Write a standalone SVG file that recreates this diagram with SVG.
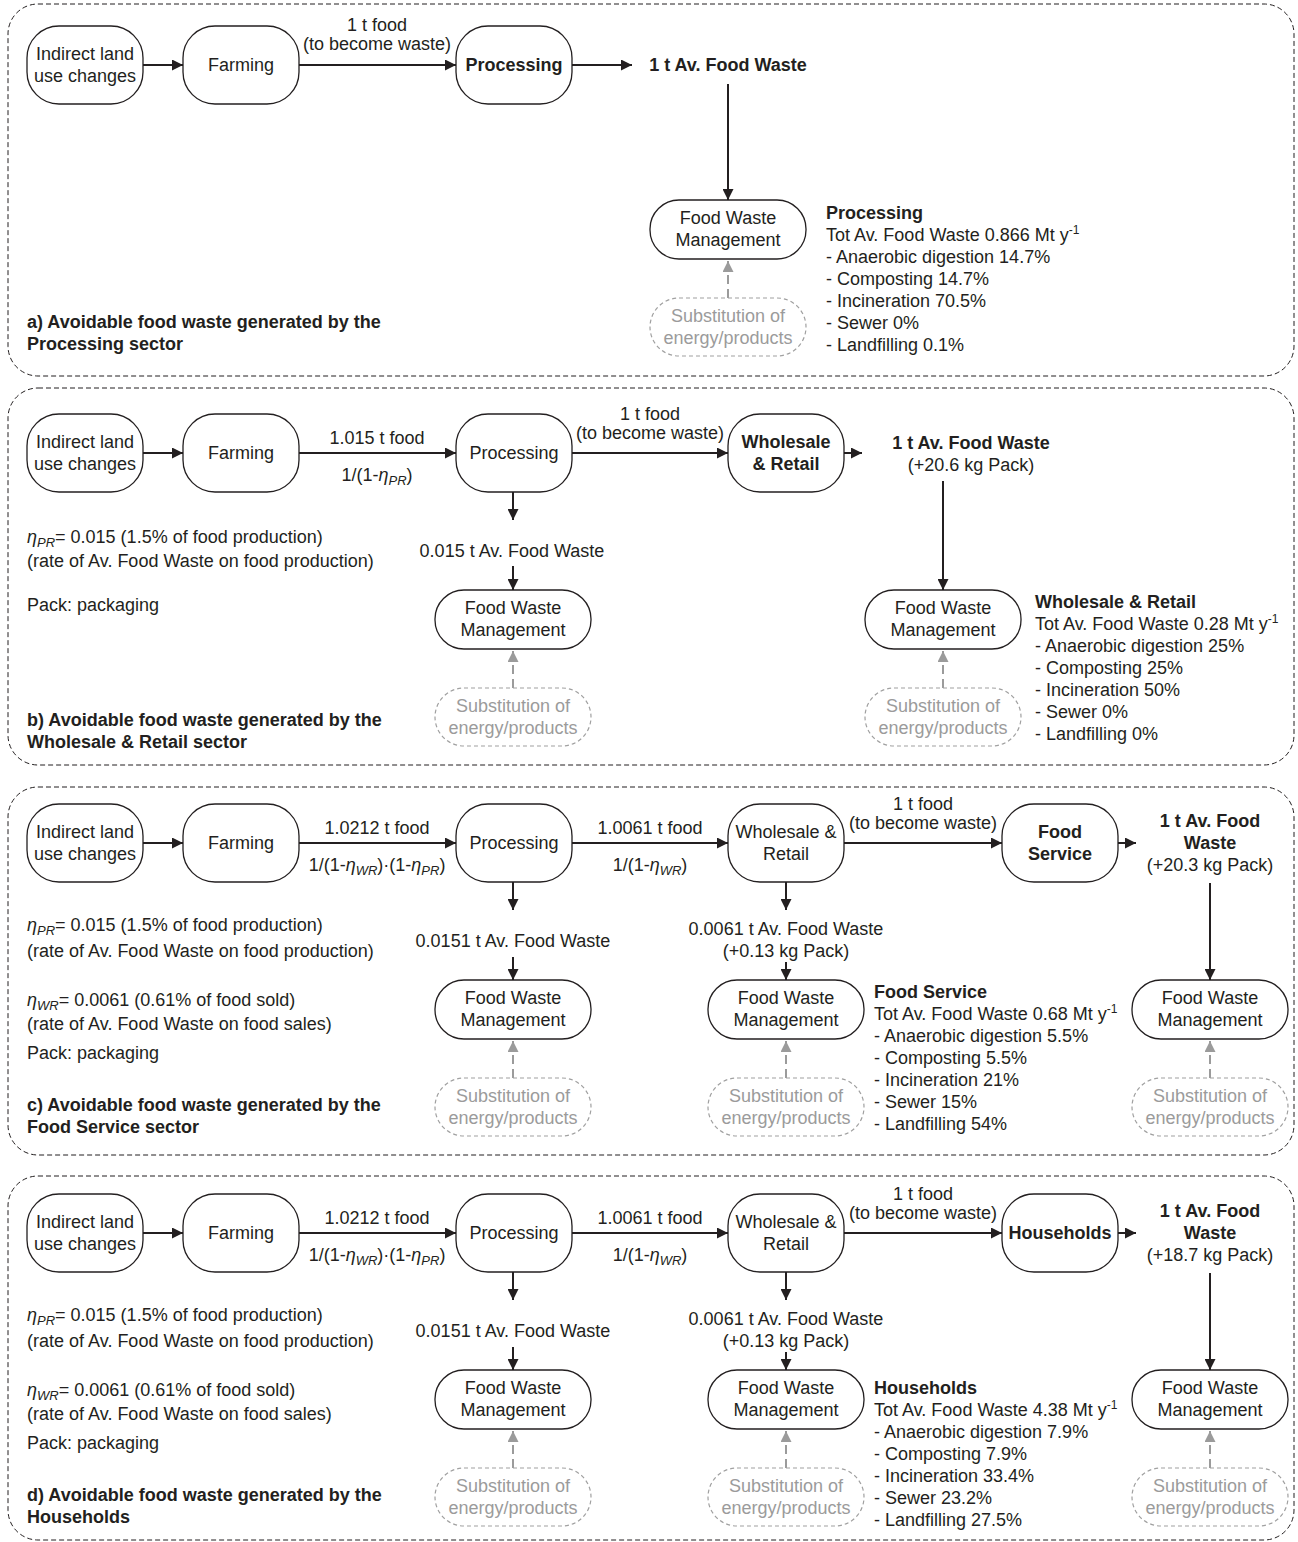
<svg xmlns="http://www.w3.org/2000/svg" width="1298" height="1542" viewBox="0 0 1298 1542">
<style>
text{font-family:"Liberation Sans",Arial,sans-serif;font-size:18px;fill:#231f20}
.b{font-weight:bold}
.c{text-anchor:middle}
.g{fill:#9b9b9b}
.i{font-style:italic}
.node{fill:#fff;stroke:#231f20;stroke-width:1.3}
.sub{fill:#fff;stroke:#a0a0a0;stroke-width:1.2;stroke-dasharray:4 3}
.frame{fill:none;stroke:#231f20;stroke-width:1;stroke-dasharray:5 3}
.arr{stroke:#231f20;stroke-width:2;fill:none;marker-end:url(#ah)}
.garr{stroke:#9b9b9b;stroke-width:2;fill:none;stroke-dasharray:9 5;marker-end:url(#gah)}
</style>
<defs>
<marker id="ah" viewBox="0 0 10 10" refX="10" refY="5" markerWidth="11" markerHeight="11" markerUnits="userSpaceOnUse" orient="auto"><path d="M0,0 L10,5 L0,10 z" fill="#231f20"/></marker>
<marker id="gah" viewBox="0 0 10 10" refX="10" refY="5" markerWidth="11" markerHeight="11" markerUnits="userSpaceOnUse" orient="auto"><path d="M0,0 L10,5 L0,10 z" fill="#9b9b9b"/></marker>
</defs>
<rect width="1298" height="1542" fill="#fff"/>

<g id="frames">
<rect class="frame" x="8" y="4" width="1286" height="372" rx="30"/>
<rect class="frame" x="8" y="388" width="1286" height="377" rx="30"/>
<rect class="frame" x="8" y="787" width="1286" height="368" rx="30"/>
<rect class="frame" x="8" y="1176" width="1286" height="364" rx="30"/>
</g>

<g id="connectors">
<line class="arr" x1="143" y1="65" x2="183" y2="65"/>
<line class="arr" x1="299" y1="65" x2="456" y2="65"/>
<line class="arr" x1="572" y1="65" x2="632" y2="65"/>
<line class="arr" x1="728" y1="84" x2="728" y2="200"/>
<line class="garr" x1="728" y1="298" x2="728" y2="261"/>
<line class="arr" x1="143" y1="453" x2="183" y2="453"/>
<line class="arr" x1="299" y1="453" x2="456" y2="453"/>
<line class="arr" x1="572" y1="453" x2="728" y2="453"/>
<line class="arr" x1="844" y1="453" x2="862" y2="453"/>
<line class="arr" x1="513" y1="492" x2="513" y2="520"/>
<line class="arr" x1="513" y1="566" x2="513" y2="590"/>
<line class="arr" x1="943" y1="481" x2="943" y2="590"/>
<line class="garr" x1="513" y1="688" x2="513" y2="651"/>
<line class="garr" x1="943" y1="688" x2="943" y2="651"/>
<line class="arr" x1="143" y1="843" x2="183" y2="843"/>
<line class="arr" x1="299" y1="843" x2="456" y2="843"/>
<line class="arr" x1="572" y1="843" x2="728" y2="843"/>
<line class="arr" x1="844" y1="843" x2="1002" y2="843"/>
<line class="arr" x1="1118" y1="843" x2="1136" y2="843"/>
<line class="arr" x1="513" y1="882" x2="513" y2="910"/>
<line class="arr" x1="513" y1="957" x2="513" y2="980"/>
<line class="arr" x1="786" y1="882" x2="786" y2="910"/>
<line class="arr" x1="786" y1="962" x2="786" y2="980"/>
<line class="arr" x1="1210" y1="883" x2="1210" y2="980"/>
<line class="garr" x1="513" y1="1078" x2="513" y2="1041"/>
<line class="garr" x1="786" y1="1078" x2="786" y2="1041"/>
<line class="garr" x1="1210" y1="1078" x2="1210" y2="1041"/>
<line class="arr" x1="143" y1="1233" x2="183" y2="1233"/>
<line class="arr" x1="299" y1="1233" x2="456" y2="1233"/>
<line class="arr" x1="572" y1="1233" x2="728" y2="1233"/>
<line class="arr" x1="844" y1="1233" x2="1002" y2="1233"/>
<line class="arr" x1="1118" y1="1233" x2="1136" y2="1233"/>
<line class="arr" x1="513" y1="1272" x2="513" y2="1300"/>
<line class="arr" x1="513" y1="1347" x2="513" y2="1370"/>
<line class="arr" x1="786" y1="1272" x2="786" y2="1300"/>
<line class="arr" x1="786" y1="1352" x2="786" y2="1370"/>
<line class="arr" x1="1210" y1="1273" x2="1210" y2="1370"/>
<line class="garr" x1="513" y1="1468" x2="513" y2="1431"/>
<line class="garr" x1="786" y1="1468" x2="786" y2="1431"/>
<line class="garr" x1="1210" y1="1468" x2="1210" y2="1431"/>
</g>

<g id="labels">
<text class="c" x="377" y="31">1 t food</text>
<text class="c" x="377" y="50">(to become waste)</text>
<text class="c" x="377" y="444">1.015 t food</text>
<text class="c" x="377" y="481">1/(1-<tspan class="i">η</tspan><tspan class="i" font-size="13" dy="4">PR</tspan><tspan dy="-4">)</tspan></text>
<text class="c" x="650" y="420">1 t food</text>
<text class="c" x="650" y="439">(to become waste)</text>
<text class="c" x="377" y="834">1.0212 t food</text>
<text class="c" x="377" y="871">1/(1-<tspan class="i">η</tspan><tspan class="i" font-size="13" dy="4">WR</tspan><tspan dy="-4">)·(1-</tspan><tspan class="i">η</tspan><tspan class="i" font-size="13" dy="4">PR</tspan><tspan dy="-4">)</tspan></text>
<text class="c" x="650" y="834">1.0061 t food</text>
<text class="c" x="650" y="871">1/(1-<tspan class="i">η</tspan><tspan class="i" font-size="13" dy="4">WR</tspan><tspan dy="-4">)</tspan></text>
<text class="c" x="923" y="810">1 t food</text>
<text class="c" x="923" y="829">(to become waste)</text>
<text class="c" x="377" y="1224">1.0212 t food</text>
<text class="c" x="377" y="1261">1/(1-<tspan class="i">η</tspan><tspan class="i" font-size="13" dy="4">WR</tspan><tspan dy="-4">)·(1-</tspan><tspan class="i">η</tspan><tspan class="i" font-size="13" dy="4">PR</tspan><tspan dy="-4">)</tspan></text>
<text class="c" x="650" y="1224">1.0061 t food</text>
<text class="c" x="650" y="1261">1/(1-<tspan class="i">η</tspan><tspan class="i" font-size="13" dy="4">WR</tspan><tspan dy="-4">)</tspan></text>
<text class="c" x="923" y="1200">1 t food</text>
<text class="c" x="923" y="1219">(to become waste)</text>
</g>

<g id="a-ilu"><rect class="node" x="27" y="26" width="116" height="78" rx="32"/><text class="c" x="85" y="60">Indirect land</text><text class="c" x="85" y="82">use changes</text></g>
<g id="a-farming"><rect class="node" x="183" y="26" width="116" height="78" rx="32"/><text class="c" x="241" y="71">Farming</text></g>
<g id="a-processing"><rect class="node" x="456" y="26" width="116" height="78" rx="32"/><text class="c b" x="514" y="71">Processing</text></g>
<g id="a-waste"><text class="c b" x="728" y="71">1 t Av. Food Waste</text></g>
<g id="a-fwm"><rect class="node" x="650" y="200" width="156" height="59" rx="29"/><text class="c" x="728" y="224">Food Waste</text><text class="c" x="728" y="246">Management</text></g>
<g id="a-sub"><rect class="sub" x="650" y="298" width="156" height="58" rx="29"/><text class="c g" x="728" y="322">Substitution of</text><text class="c g" x="728" y="344">energy/products</text></g>
<g id="a-info">
<text class="b" x="826" y="219">Processing</text>
<text x="826" y="241">Tot Av. Food Waste 0.866 Mt y<tspan font-size="12" dy="-7">-1</tspan></text>
<text x="826" y="263">- Anaerobic digestion 14.7%</text>
<text x="826" y="285">- Composting 14.7%</text>
<text x="826" y="307">- Incineration 70.5%</text>
<text x="826" y="329">- Sewer 0%</text>
<text x="826" y="351">- Landfilling 0.1%</text>
</g>
<g id="a-title"><text class="b" x="27" y="328">a) Avoidable food waste generated by the</text><text class="b" x="27" y="350">Processing sector</text></g>

<g id="b-ilu"><rect class="node" x="27" y="414" width="116" height="78" rx="32"/><text class="c" x="85" y="448">Indirect land</text><text class="c" x="85" y="470">use changes</text></g>
<g id="b-farming"><rect class="node" x="183" y="414" width="116" height="78" rx="32"/><text class="c" x="241" y="459">Farming</text></g>
<g id="b-processing"><rect class="node" x="456" y="414" width="116" height="78" rx="32"/><text class="c" x="514" y="459">Processing</text></g>
<g id="b-wr"><rect class="node" x="728" y="414" width="116" height="78" rx="32"/><text class="c b" x="786" y="448">Wholesale</text><text class="c b" x="786" y="470">&amp; Retail</text></g>
<g id="b-waste"><text class="c b" x="971" y="449">1 t Av. Food Waste</text><text class="c" x="971" y="471">(+20.6 kg Pack)</text></g>
<g id="b-pr-waste"><text class="c" x="512" y="557">0.015 t Av. Food Waste</text></g>
<g id="b-fwm1"><rect class="node" x="435" y="590" width="156" height="59" rx="29"/><text class="c" x="513" y="614">Food Waste</text><text class="c" x="513" y="636">Management</text></g>
<g id="b-sub1"><rect class="sub" x="435" y="688" width="156" height="58" rx="29"/><text class="c g" x="513" y="712">Substitution of</text><text class="c g" x="513" y="734">energy/products</text></g>
<g id="b-fwm2"><rect class="node" x="865" y="590" width="156" height="59" rx="29"/><text class="c" x="943" y="614">Food Waste</text><text class="c" x="943" y="636">Management</text></g>
<g id="b-sub2"><rect class="sub" x="865" y="688" width="156" height="58" rx="29"/><text class="c g" x="943" y="712">Substitution of</text><text class="c g" x="943" y="734">energy/products</text></g>
<g id="b-info">
<text class="b" x="1035" y="608">Wholesale &amp; Retail</text>
<text x="1035" y="630">Tot Av. Food Waste 0.28 Mt y<tspan font-size="12" dy="-7">-1</tspan></text>
<text x="1035" y="652">- Anaerobic digestion 25%</text>
<text x="1035" y="674">- Composting 25%</text>
<text x="1035" y="696">- Incineration 50%</text>
<text x="1035" y="718">- Sewer 0%</text>
<text x="1035" y="740">- Landfilling 0%</text>
</g>
<g id="b-notes">
<text x="27" y="543"><tspan class="i">η</tspan><tspan class="i" font-size="13" dy="4">PR</tspan><tspan dy="-4">= 0.015 (1.5% of food production)</tspan></text>
<text x="27" y="567">(rate of Av. Food Waste on food production)</text>
<text x="27" y="611">Pack: packaging</text>
</g>
<g id="b-title"><text class="b" x="27" y="726">b) Avoidable food waste generated by the</text><text class="b" x="27" y="748">Wholesale &amp; Retail sector</text></g>

<g id="c-ilu"><rect class="node" x="27" y="804" width="116" height="78" rx="32"/><text class="c" x="85" y="838">Indirect land</text><text class="c" x="85" y="860">use changes</text></g>
<g id="c-farming"><rect class="node" x="183" y="804" width="116" height="78" rx="32"/><text class="c" x="241" y="849">Farming</text></g>
<g id="c-processing"><rect class="node" x="456" y="804" width="116" height="78" rx="32"/><text class="c" x="514" y="849">Processing</text></g>
<g id="c-wr"><rect class="node" x="728" y="804" width="116" height="78" rx="32"/><text class="c" x="786" y="838">Wholesale &amp;</text><text class="c" x="786" y="860">Retail</text></g>
<g id="c-fs"><rect class="node" x="1002" y="804" width="116" height="78" rx="32"/><text class="c b" x="1060" y="838">Food</text><text class="c b" x="1060" y="860">Service</text></g>
<g id="c-waste"><text class="c b" x="1210" y="827">1 t Av. Food</text><text class="c b" x="1210" y="849">Waste</text><text class="c" x="1210" y="871">(+20.3 kg Pack)</text></g>
<g id="c-pr-waste"><text class="c" x="513" y="947">0.0151 t Av. Food Waste</text></g>
<g id="c-wr-waste"><text class="c" x="786" y="935">0.0061 t Av. Food Waste</text><text class="c" x="786" y="957">(+0.13 kg Pack)</text></g>
<g id="c-fwm1"><rect class="node" x="435" y="980" width="156" height="59" rx="29"/><text class="c" x="513" y="1004">Food Waste</text><text class="c" x="513" y="1026">Management</text></g>
<g id="c-sub1"><rect class="sub" x="435" y="1078" width="156" height="58" rx="29"/><text class="c g" x="513" y="1102">Substitution of</text><text class="c g" x="513" y="1124">energy/products</text></g>
<g id="c-fwm2"><rect class="node" x="708" y="980" width="156" height="59" rx="29"/><text class="c" x="786" y="1004">Food Waste</text><text class="c" x="786" y="1026">Management</text></g>
<g id="c-sub2"><rect class="sub" x="708" y="1078" width="156" height="58" rx="29"/><text class="c g" x="786" y="1102">Substitution of</text><text class="c g" x="786" y="1124">energy/products</text></g>
<g id="c-fwm3"><rect class="node" x="1132" y="980" width="156" height="59" rx="29"/><text class="c" x="1210" y="1004">Food Waste</text><text class="c" x="1210" y="1026">Management</text></g>
<g id="c-sub3"><rect class="sub" x="1132" y="1078" width="156" height="58" rx="29"/><text class="c g" x="1210" y="1102">Substitution of</text><text class="c g" x="1210" y="1124">energy/products</text></g>
<g id="c-info">
<text class="b" x="874" y="998">Food Service</text>
<text x="874" y="1020">Tot Av. Food Waste 0.68 Mt y<tspan font-size="12" dy="-7">-1</tspan></text>
<text x="874" y="1042">- Anaerobic digestion 5.5%</text>
<text x="874" y="1064">- Composting 5.5%</text>
<text x="874" y="1086">- Incineration 21%</text>
<text x="874" y="1108">- Sewer 15%</text>
<text x="874" y="1130">- Landfilling 54%</text>
</g>
<g id="c-notes">
<text x="27" y="931"><tspan class="i">η</tspan><tspan class="i" font-size="13" dy="4">PR</tspan><tspan dy="-4">= 0.015 (1.5% of food production)</tspan></text>
<text x="27" y="957">(rate of Av. Food Waste on food production)</text>
<text x="27" y="1006"><tspan class="i">η</tspan><tspan class="i" font-size="13" dy="4">WR</tspan><tspan dy="-4">= 0.0061 (0.61% of food sold)</tspan></text>
<text x="27" y="1030">(rate of Av. Food Waste on food sales)</text>
<text x="27" y="1059">Pack: packaging</text>
</g>
<g id="c-title"><text class="b" x="27" y="1111">c) Avoidable food waste generated by the</text><text class="b" x="27" y="1133">Food Service sector</text></g>

<g id="d-ilu"><rect class="node" x="27" y="1194" width="116" height="78" rx="32"/><text class="c" x="85" y="1228">Indirect land</text><text class="c" x="85" y="1250">use changes</text></g>
<g id="d-farming"><rect class="node" x="183" y="1194" width="116" height="78" rx="32"/><text class="c" x="241" y="1239">Farming</text></g>
<g id="d-processing"><rect class="node" x="456" y="1194" width="116" height="78" rx="32"/><text class="c" x="514" y="1239">Processing</text></g>
<g id="d-wr"><rect class="node" x="728" y="1194" width="116" height="78" rx="32"/><text class="c" x="786" y="1228">Wholesale &amp;</text><text class="c" x="786" y="1250">Retail</text></g>
<g id="d-hh"><rect class="node" x="1002" y="1194" width="116" height="78" rx="32"/><text class="c b" x="1060" y="1239">Households</text></g>
<g id="d-waste"><text class="c b" x="1210" y="1217">1 t Av. Food</text><text class="c b" x="1210" y="1239">Waste</text><text class="c" x="1210" y="1261">(+18.7 kg Pack)</text></g>
<g id="d-pr-waste"><text class="c" x="513" y="1337">0.0151 t Av. Food Waste</text></g>
<g id="d-wr-waste"><text class="c" x="786" y="1325">0.0061 t Av. Food Waste</text><text class="c" x="786" y="1347">(+0.13 kg Pack)</text></g>
<g id="d-fwm1"><rect class="node" x="435" y="1370" width="156" height="59" rx="29"/><text class="c" x="513" y="1394">Food Waste</text><text class="c" x="513" y="1416">Management</text></g>
<g id="d-sub1"><rect class="sub" x="435" y="1468" width="156" height="58" rx="29"/><text class="c g" x="513" y="1492">Substitution of</text><text class="c g" x="513" y="1514">energy/products</text></g>
<g id="d-fwm2"><rect class="node" x="708" y="1370" width="156" height="59" rx="29"/><text class="c" x="786" y="1394">Food Waste</text><text class="c" x="786" y="1416">Management</text></g>
<g id="d-sub2"><rect class="sub" x="708" y="1468" width="156" height="58" rx="29"/><text class="c g" x="786" y="1492">Substitution of</text><text class="c g" x="786" y="1514">energy/products</text></g>
<g id="d-fwm3"><rect class="node" x="1132" y="1370" width="156" height="59" rx="29"/><text class="c" x="1210" y="1394">Food Waste</text><text class="c" x="1210" y="1416">Management</text></g>
<g id="d-sub3"><rect class="sub" x="1132" y="1468" width="156" height="58" rx="29"/><text class="c g" x="1210" y="1492">Substitution of</text><text class="c g" x="1210" y="1514">energy/products</text></g>
<g id="d-info">
<text class="b" x="874" y="1394">Households</text>
<text x="874" y="1416">Tot Av. Food Waste 4.38 Mt y<tspan font-size="12" dy="-7">-1</tspan></text>
<text x="874" y="1438">- Anaerobic digestion 7.9%</text>
<text x="874" y="1460">- Composting 7.9%</text>
<text x="874" y="1482">- Incineration 33.4%</text>
<text x="874" y="1504">- Sewer 23.2%</text>
<text x="874" y="1526">- Landfilling 27.5%</text>
</g>
<g id="d-notes">
<text x="27" y="1321"><tspan class="i">η</tspan><tspan class="i" font-size="13" dy="4">PR</tspan><tspan dy="-4">= 0.015 (1.5% of food production)</tspan></text>
<text x="27" y="1347">(rate of Av. Food Waste on food production)</text>
<text x="27" y="1396"><tspan class="i">η</tspan><tspan class="i" font-size="13" dy="4">WR</tspan><tspan dy="-4">= 0.0061 (0.61% of food sold)</tspan></text>
<text x="27" y="1420">(rate of Av. Food Waste on food sales)</text>
<text x="27" y="1449">Pack: packaging</text>
</g>
<g id="d-title"><text class="b" x="27" y="1501">d) Avoidable food waste generated by the</text><text class="b" x="27" y="1523">Households</text></g>
</svg>
